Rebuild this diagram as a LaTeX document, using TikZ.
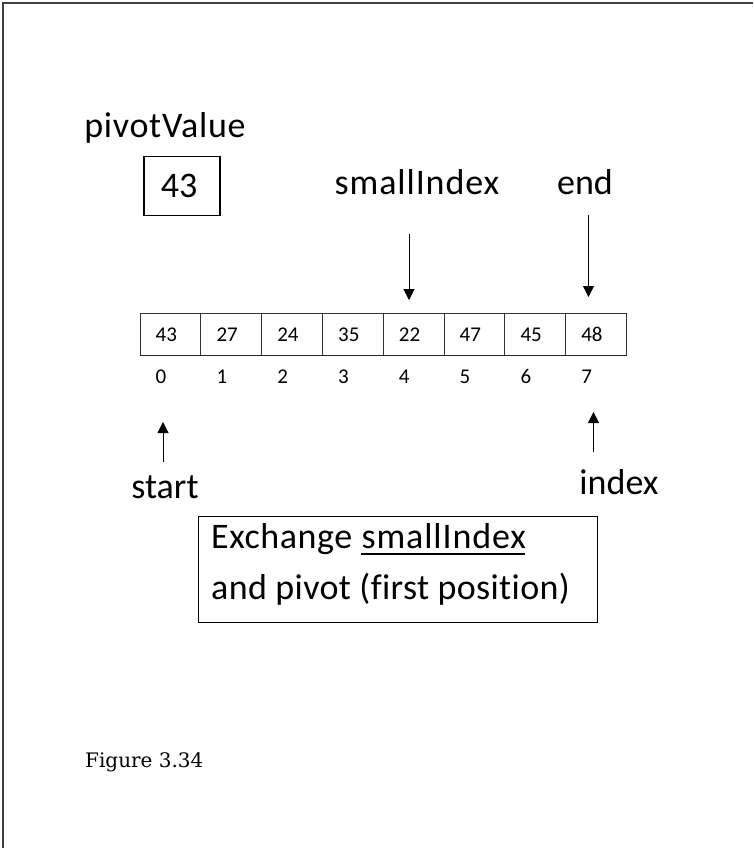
\documentclass[tikz,border=0pt]{standalone}
\usepackage{fontspec}
\newfontfamily\carl[Ligatures=NoCommon]{Carlito}
\newfontfamily\capserif{DejaVu Serif}
\usetikzlibrary{arrows.meta}
\tikzset{
  lbl/.style={font=\carl\fontsize{36}{43}\selectfont, inner sep=0pt, anchor=base},
  small/.style={font=\carl\fontsize{21}{25}\selectfont, inner sep=0pt, anchor=base west},
  cell/.style={draw=black!80, line width=0.8pt, minimum width=60.8pt, minimum height=42pt, inner sep=0pt},
  arr/.style={line width=1pt, -{Triangle[width=11pt,length=11pt]}},
  boxed/.style={draw, line width=1.2pt, inner sep=0pt}
}
\newcommand{\wideSI}{{\addfontfeature{LetterSpace=2.5}smallIndex}}
\begin{document}
\begin{tikzpicture}[x=1pt,y=-1pt]
\useasboundingbox (0,0) rectangle (753,848);
% page frame
\draw[line width=2pt, black!75] (3,848) -- (3,3) -- (753,3);

% pivot value
\node[lbl] (pv) at (165,137) {{\addfontfeature{LetterSpace=2}pivotValue}};
\node[boxed, minimum width=76pt, minimum height=59pt] (pbox) at (182,186) {};
\node[lbl] (pvv) at (179,197) {43};

% labels above
\node[lbl] (si) at (417,194.5) {\wideSI};
\node[lbl] (en) at (585,194.5) {end};
\coordinate (siA) at (409,234);
\coordinate (siB) at (409,300);
\coordinate (enA) at (588.5,215);
\coordinate (enB) at (588.5,297);
\draw[arr] (siA) -- (siB);
\draw[arr] (enA) -- (enB);

% array
\foreach \v [count=\i from 0] in {43,27,24,35,22,47,45,48} {
  \node[cell] (c\i) at ({170.4+\i*60.8},334) {};
  \node[small] (v\i) at ({155.5+\i*60.8},341) {\v};
  \node[small] (n\i) at ({155.5+\i*60.8},383.5) {\i};
}
\draw[line width=1.8pt, black!85] (c0.south west) -- (c7.south east);

% labels below
\coordinate (stA) at (163,462);
\coordinate (stB) at (163,422);
\coordinate (ixA) at (593.5,452);
\coordinate (ixB) at (593.5,412);
\draw[arr] (stA) -- (stB);
\draw[arr] (ixA) -- (ixB);
\node[lbl] (st) at (165,498) {start};
\node[lbl] (ix) at (619,494) {index};

% exchange box
\node[boxed, minimum width=399pt, minimum height=106pt, anchor=north west] (xb) at (198,516) {};
\node[lbl, anchor=base west] (x1) at (211,548) {{\addfontfeature{LetterSpace=1.5}Exchange}};
\node[lbl, anchor=base west] (x2) at ([xshift=9pt]x1.base east) {\wideSI};
\draw[line width=1.8pt] ([yshift=-6pt]x2.base west) -- ([yshift=-6pt,xshift=-1pt]x2.base east);
\node[lbl, anchor=base west] (x3) at (211,599) {{\addfontfeature{LetterSpace=1}and pivot (first position)}};

% caption
\node[anchor=base west, inner sep=0pt, font=\capserif\fontsize{20}{24}\selectfont] (cap) at (85,767) {Figure 3.34};
\end{tikzpicture}
\end{document}
